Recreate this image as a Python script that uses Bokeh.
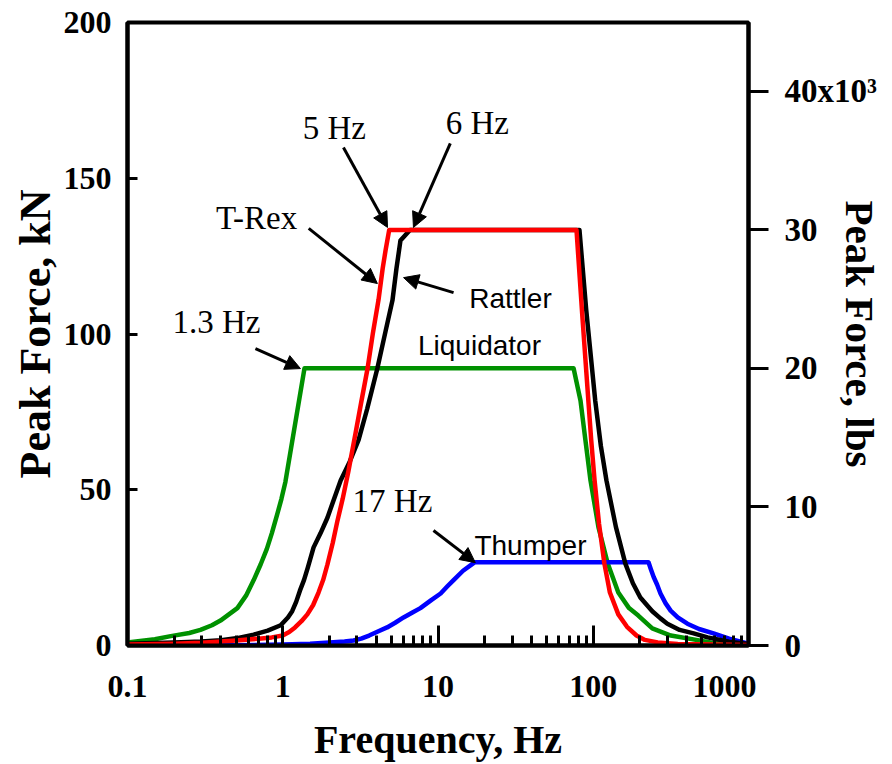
from bokeh.plotting import figure
from bokeh.models import LinearAxis, Range1d, Arrow, NormalHead, Label, FixedTicker
from bokeh.embed import file_html
from bokeh.resources import INLINE

# ---- data (frequency Hz, peak force kN) ----
trex_f = [0.1, 0.2, 0.3, 0.5, 0.7, 0.85, 1.0, 1.1, 1.2, 1.32, 1.44, 1.57, 1.7, 1.82, 1.94, 2.1, 2.25,
          2.43, 2.65, 2.94, 3.2, 3.52, 3.8, 4.14, 4.4, 4.6, 4.85,
          78, 85, 93, 97, 102, 109, 118, 128, 145, 165, 190, 215, 260, 350, 600, 1000]
trex_k = [0.3, 0.6, 0.9, 1.6, 2.2, 2.6, 3.2, 4.3, 5.8, 7.8, 10, 13, 17, 21, 26, 33, 40,
          47, 56, 68, 78, 89, 100, 111, 121, 127, 133.4,
          133.4, 106, 78.6, 66, 53, 39, 26.3, 17, 10, 6, 3.2, 1.8, 1.0, 0.5, 0.3, 0.2]

rattler_f = [0.1, 0.2, 0.3, 0.4, 0.5, 0.65, 0.8, 0.97, 1.08, 1.15, 1.22, 1.29, 1.37, 1.45, 1.58, 1.75,
             1.94, 2.12, 2.36, 2.7, 3.08, 3.5, 4.07, 4.6, 5.09, 5.4, 5.73, 6.6,
             81.5, 90, 103, 112, 121.6, 140, 161, 180, 201, 240, 271, 300, 360, 443, 545, 750, 1000]
rattler_k = [0.6, 1.0, 1.3, 1.7, 2.3, 3.5, 4.8, 6.5, 9, 11, 14, 17.6, 21, 25, 31.5, 36,
             41, 46.5, 53, 59, 66, 76, 89, 101, 110.8, 121, 130, 133.4,
             133.4, 108, 78.6, 64, 53, 38, 26.3, 20, 15.4, 11, 8.7, 7, 5, 3.9, 2.6, 1.2, 0.5]

liq_f = [0.1, 0.15, 0.19, 0.25, 0.295, 0.35, 0.397, 0.45, 0.51, 0.58, 0.65, 0.72, 0.79, 0.85, 0.92,
         0.98, 1.04, 1.38,
         74.7, 82.8, 89, 96, 108, 124, 145, 170, 195, 240, 316, 569, 1000]
liq_k = [1.0, 2, 3, 4, 5, 6.5, 8, 10, 12, 16, 21, 26, 31, 36, 42,
         47, 52.5, 89,
         89, 78.6, 66, 53, 38, 26.3, 17, 12, 9.6, 5.5, 3.2, 1.0, 0.5]

thump_f = [0.1, 0.5, 1, 1.5, 2, 2.5, 2.86, 3.2, 3.6, 4.1, 4.7, 5.3, 6, 6.8, 7.7, 9, 10.4, 11.5, 12.6,
           14.5, 17.2,
           227, 235, 245, 258, 271, 292, 315, 350, 404, 480, 595, 750, 1000]
thump_k = [0.0, 0.1, 0.3, 0.6, 1.0, 1.3, 1.6, 2.2, 3.2, 4.5, 5.8, 7.3, 9, 10.5, 12, 14.5, 16.7, 19, 21,
           24, 26.7,
           26.7, 24.5, 22, 19.5, 16.7, 13.6, 11.2, 9, 7, 5.3, 3.9, 2.2, 0.6]

x_ticks = [0.1, 1, 10, 100, 1000]
x_tick_labels = ["0.1", "1", "10", "100", "1000"]
y_ticks = [0, 50, 100, 150, 200]
lbs_ticks = [0, 10000, 20000, 30000, 40000]
lbs_tick_labels = ["0", "10", "20", "30", "40x10\u00b3"]
KN_TO_LBS = 224.809

SERIF = "Liberation Serif"
SANS = "Liberation Sans"

p = figure(width=892, height=764, x_axis_type="log",
           x_range=Range1d(0.1, 1000), y_range=Range1d(0, 200),
           output_backend="svg", toolbar_location=None,
           min_border_left=127, min_border_right=144,
           min_border_top=22, min_border_bottom=119)
p.grid.visible = False
p.background_fill_color = "white"
p.border_fill_color = "white"
p.outline_line_color = "black"
p.outline_line_width = 4
p.outline_line_alpha = 1.0

# curves
p.line(liq_f, liq_k, line_color="#009100", line_width=4.5, line_join="round")
p.line(thump_f, thump_k, line_color="#0000ff", line_width=4.5, line_join="round")
p.line(rattler_f, rattler_k, line_color="black", line_width=4.5, line_join="round")
p.line(trex_f, trex_k, line_color="#ff0000", line_width=4.5, line_join="round")

# x axis
minor = []
for d in [0.1, 1, 10, 100]:
    for k in range(2, 10):
        minor.append(round(k * d, 6))
xa = p.xaxis[0]
xa.ticker = FixedTicker(ticks=x_ticks, minor_ticks=minor)
overrides = {t: l for t, l in zip(x_ticks, x_tick_labels)}
overrides[1000] = "1000" + "\u00a0" * 6   # last label sits left of its tick, as in the original
xa.major_label_overrides = overrides
xa.axis_label = "Frequency, Hz"
xa.axis_line_width = 4
xa.major_tick_line_width = 3
xa.minor_tick_line_width = 3
xa.major_tick_in = 20
xa.major_tick_out = 0
xa.minor_tick_in = 10
xa.minor_tick_out = 0
xa.major_label_standoff = 22
xa.major_label_text_font = SERIF
xa.major_label_text_font_style = "bold"
xa.major_label_text_font_size = "32px"
xa.major_label_text_color = "black"
xa.axis_label_text_font = SERIF
xa.axis_label_text_font_style = "bold"
xa.axis_label_text_font_size = "40px"
xa.axis_label_text_color = "black"
xa.axis_label_standoff = 10

# left axis
ya = p.yaxis[0]
ya.ticker = FixedTicker(ticks=y_ticks)
ya.axis_label = "Peak Force, kN"
ya.axis_line_width = 4
ya.major_tick_line_width = 3
ya.major_tick_in = 10
ya.major_tick_out = 0
ya.minor_tick_line_color = None
ya.major_label_standoff = 16
ya.major_label_text_font = SERIF
ya.major_label_text_font_style = "bold"
ya.major_label_text_font_size = "32px"
ya.major_label_text_color = "black"
ya.axis_label_text_font = SERIF
ya.axis_label_text_font_style = "bold"
ya.axis_label_text_font_size = "44px"
ya.axis_label_text_color = "black"
ya.axis_label_standoff = 1

# right axis (lbs)
p.extra_y_ranges = {"lbs": Range1d(0, 200 * KN_TO_LBS)}
ra = LinearAxis(y_range_name="lbs", ticker=FixedTicker(ticks=lbs_ticks),
                major_label_overrides={t: l for t, l in zip(lbs_ticks, lbs_tick_labels)},
                axis_label="Peak Force, lbs")
ra.axis_line_width = 4
ra.major_tick_line_width = 3
ra.major_tick_in = 0
ra.major_tick_out = 20
ra.minor_tick_line_color = None
ra.major_label_standoff = 16
ra.major_label_text_font = SERIF
ra.major_label_text_font_style = "bold"
ra.major_label_text_font_size = "33px"
ra.major_label_text_color = "black"
ra.axis_label_text_font = SERIF
ra.axis_label_text_font_style = "bold"
ra.axis_label_text_font_size = "41px"
ra.axis_label_text_color = "black"
ra.axis_label_standoff = -43
p.add_layout(ra, "right")

# annotations: arrows (data coordinates)
arrows = [
    (2.46, 159.9, 4.73, 134.2),   # 5 Hz
    (12.0, 161.2, 6.95, 134.2),   # 6 Hz
    (1.47, 133.9, 4.07, 116.2),   # T-Rex
    (12.6, 113.3, 6.0, 118.1),    # Rattler
    (0.667, 95.3, 1.30, 88.9),    # 1.3 Hz
    (9.35, 36.9, 17.4, 26.6),     # 17 Hz
]
for xs, ys, xe, ye in arrows:
    p.add_layout(Arrow(end=NormalHead(size=15, fill_color="black", line_color="black", line_width=1),
                       x_start=xs, y_start=ys, x_end=xe, y_end=ye,
                       line_color="black", line_width=3))

labels = [
    ("5 Hz", 2.15, 166.0, SERIF),
    ("6 Hz", 17.9, 167.6, SERIF),
    ("T-Rex", 0.678, 137.1, SERIF),
    ("Rattler", 29.3, 111.4, SANS),
    ("Liquidator", 18.5, 96.3, SANS),
    ("1.3 Hz", 0.374, 103.7, SERIF),
    ("17 Hz", 5.09, 46.5, SERIF),
    ("Thumper", 39.4, 32.1, SANS),
]
for txt, lx, ly, fnt in labels:
    p.add_layout(Label(x=lx, y=ly, text=txt, text_font=fnt,
                       text_font_size="33px" if fnt == SERIF else "28px",
                       text_align="center", text_baseline="middle", text_color="black"))

open("out.html", "w").write(file_html(p, INLINE))
